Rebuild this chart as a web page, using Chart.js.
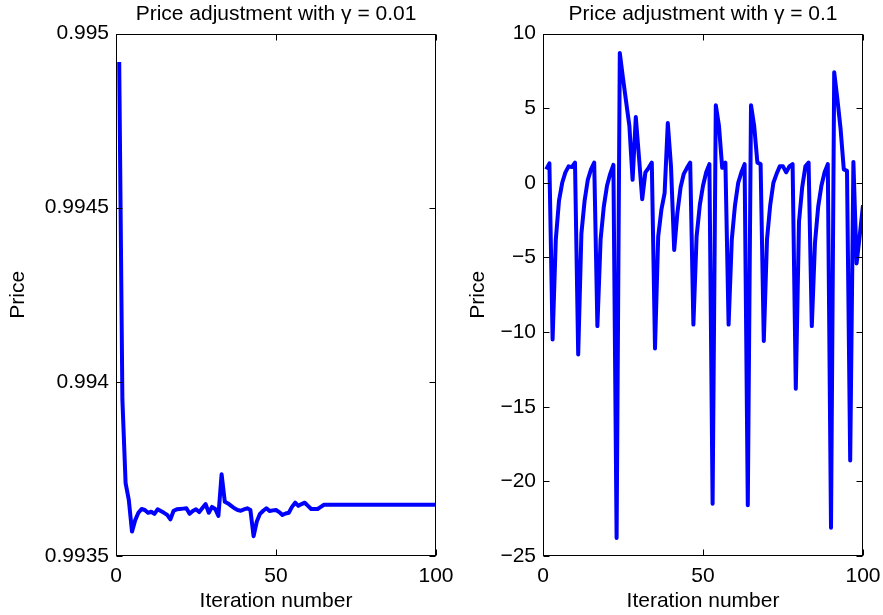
<!DOCTYPE html>
<html>
<head>
<meta charset="utf-8">
<script src="https://cdn.jsdelivr.net/npm/chart.js@4"></script>
<style>
  html, body { margin: 0; padding: 0; background: #fff; }
  body { width: 883px; height: 615px; position: relative; overflow: hidden; }
  canvas { position: absolute; top: 0; }
</style>
</head>
<body>
<canvas id="leftChart" width="480" height="615" style="left:0px"></canvas>
<canvas id="rightChart" width="483" height="615" style="left:440px"></canvas>
<script>
// iteration numbers (x axis)
const iterations = Array.from({length: 100}, (_, i) => i + 1);

// price with gamma = 0.01
const priceSmall = [
  0.994918, 0.993948, 0.993709, 0.993661, 0.993570, 0.993603, 0.993624, 0.993635, 0.993632, 0.993624,
  0.993627, 0.993621, 0.993634, 0.993629, 0.993624, 0.993618, 0.993605, 0.993630, 0.993634, 0.993635,
  0.993636, 0.993637, 0.993621, 0.993629, 0.993634, 0.993626, 0.993638, 0.993649, 0.993624, 0.993641,
  0.993635, 0.993615, 0.993735, 0.993656, 0.993651, 0.993644, 0.993637, 0.993632, 0.993630, 0.993634,
  0.993637, 0.993632, 0.993557, 0.993599, 0.993621, 0.993630, 0.993637, 0.993629, 0.993631, 0.993632,
  0.993626, 0.993618, 0.993622, 0.993624, 0.993641, 0.993653, 0.993644, 0.993649, 0.993653, 0.993644,
  0.993635, 0.993635, 0.993635, 0.993641, 0.993647, 0.993647, 0.993647, 0.993647, 0.993647, 0.993647,
  0.993647, 0.993647, 0.993647, 0.993647, 0.993647, 0.993647, 0.993647, 0.993647, 0.993647, 0.993647,
  0.993647, 0.993647, 0.993647, 0.993647, 0.993647, 0.993647, 0.993647, 0.993647, 0.993647, 0.993647,
  0.993647, 0.993647, 0.993647, 0.993647, 0.993647, 0.993647, 0.993647, 0.993647, 0.993647, 0.993647
];

// price with gamma = 0.1
const priceLarge = [
  0.9, 1.3, -10.5, -3.8, -1.2, 0.0, 0.7, 1.1, 1.05, 1.35,
  -11.5, -3.4, -1.2, 0.2, 0.9, 1.35, -9.6, -3.8, -1.6, -0.2,
  0.6, 1.2, -23.8, 8.7, 7.0, 5.4, 3.8, 0.2, 4.4, 1.7,
  -1.1, 0.7, 1.0, 1.35, -11.1, -3.6, -1.8, -0.7, 4.0, 1.1,
  -4.5, -2.0, -0.3, 0.6, 1.0, 1.35, -9.5, -3.6, -1.5, -0.2,
  0.7, 1.25, -21.5, 5.2, 3.8, 1.0, 1.35, -9.5, -3.8, -1.5,
  0.0, 0.7, 1.25, -21.6, 5.2, 3.8, 1.35, 1.25, -10.6, -3.8,
  -1.5, 0.0, 0.6, 1.1, 1.1, 0.7, 1.1, 1.25, -13.8, -2.6,
  -0.3, 1.1, 1.35, -9.6, -4.0, -1.6, -0.2, 0.7, 1.25, -23.1,
  7.4, 5.6, 3.6, 0.9, 0.8, -18.6, 1.4, -5.4, -3.5, -1.5
];

const xTicks = [0, 50, 100];
const yTicksSmall = [0.9935, 0.994, 0.9945, 0.995];
const yTicksLarge = [-25, -20, -15, -10, -5, 0, 5, 10];

const FONT = '"Liberation Sans", Arial, Helvetica, sans-serif';

// matlab style box with inward ticks
const matlabBox = {
  id: 'matlabBox',
  afterDraw(chart) {
    const {ctx, chartArea: a, scales: {x, y}} = chart;
    ctx.save();
    ctx.strokeStyle = '#000';
    ctx.lineWidth = 1;
    const L = Math.round(a.left) + 0.5, R = Math.round(a.right) - 0.5;
    const T = Math.round(a.top) + 0.5, B = Math.round(a.bottom) - 0.5;
    ctx.strokeRect(L, T, R - L, B - T);
    ctx.beginPath();
    y.ticks.forEach(t => {
      const py = Math.round(y.getPixelForValue(t.value)) + 0.5;
      ctx.moveTo(L, py); ctx.lineTo(L + 6, py);
      ctx.moveTo(R, py); ctx.lineTo(R - 6, py);
    });
    x.ticks.forEach(t => {
      const px = Math.round(x.getPixelForValue(t.value)) + 0.5;
      ctx.moveTo(px, B); ctx.lineTo(px, B - 6);
      ctx.moveTo(px, T); ctx.lineTo(px, T + 6);
    });
    ctx.stroke();
    ctx.restore();
  }
};

function minusFmt(v) {
  const s = String(+v.toFixed(4));
  return s.replace('-', '\u2212');
}

function makeChart(id, values, yTicks, title, yWidth, yTitlePad, padRight) {
  const ctx = document.getElementById(id).getContext('2d');
  return new Chart(ctx, {
    type: 'line',
    data: {
      labels: iterations,
      datasets: [{
        data: values,
        borderColor: '#0000ff',
        borderWidth: 4,
        pointRadius: 0,
        tension: 0,
        borderJoinStyle: 'round',
        fill: false
      }]
    },
    options: {
      responsive: false,
      animation: false,
      devicePixelRatio: 1,
      layout: { padding: { left: 0, right: padRight, top: 0, bottom: 0 } },
      plugins: {
        legend: { display: false },
        tooltip: { enabled: false },
        title: {
          display: true,
          text: title,
          fullSize: false,
          color: '#000',
          font: { family: FONT, size: 21, weight: 'normal' },
          padding: { top: 1.3, bottom: 7 }
        }
      },
      scales: {
        x: {
          type: 'linear',
          min: 0, max: 100,
          afterBuildTicks: s => { s.ticks = xTicks.map(v => ({value: v})); },
          afterFit: s => { s.height = 59; },
          grid: { display: false, drawTicks: false },
          border: { display: false },
          ticks: { color: '#000', font: { family: FONT, size: 21 }, padding: 8, maxRotation: 0 },
          title: {
            display: true, text: 'Iteration number', color: '#000',
            font: { family: FONT, size: 21 }, padding: { top: 0, bottom: 1 }
          }
        },
        y: {
          type: 'linear',
          min: yTicks[0], max: yTicks[yTicks.length - 1],
          afterBuildTicks: s => { s.ticks = yTicks.map(v => ({value: v})); },
          afterFit: s => { s.width = yWidth; },
          grid: { display: false, drawTicks: false },
          border: { display: false },
          ticks: { color: '#000', font: { family: FONT, size: 21 }, padding: 7, callback: minusFmt },
          title: {
            display: true, text: 'Price', color: '#000',
            font: { family: FONT, size: 21 }, padding: { top: yTitlePad, bottom: 0 }
          }
        }
      }
    },
    plugins: [matlabBox]
  });
}

makeChart('leftChart', priceSmall, yTicksSmall, 'Price adjustment with \u03b3 = 0.01', 116, 5.7, 44);
makeChart('rightChart', priceLarge, yTicksLarge, 'Price adjustment with \u03b3 = 0.1', 103, 26, 60);
</script>
</body>
</html>
